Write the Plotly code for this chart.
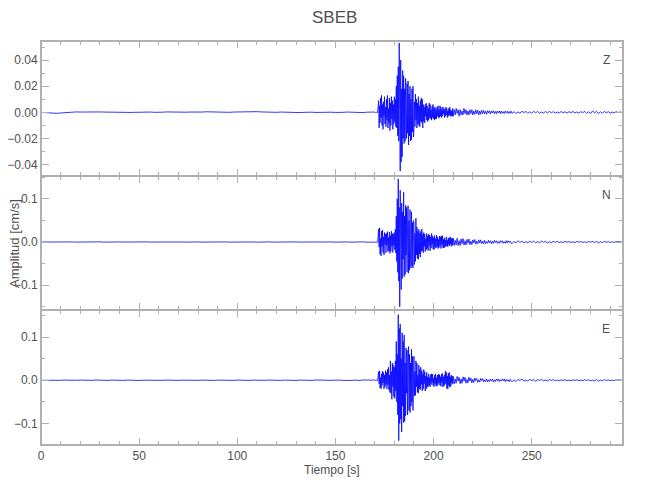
import numpy as np
import plotly.graph_objects as go
from plotly.subplots import make_subplots

# ---------------- data (in 0.001 cm/s) ----------------
station = "SBEB"
components = ["Z", "N", "E"]

# sampling of the segments: (start time [s], step [s])
seg_pre = (0.0, 2.0)      # 0 .. 168 s
seg_onset = (170.0, 0.5)  # 170 .. 171.5 s
seg_main = (172.0, 0.25)  # 172 .. 209.75 s
seg_late = (210.0, 0.5)   # 210 .. 239.5 s
seg_coda = (240.0, 1.0)   # 240 .. 297 s

z_pre = [0.0,-0.3,-0.7,-0.9,-0.8,-0.5,-0.2,0.1,0.2,0.3,
         0.2,0.3,0.4,0.3,0.2,0.3,0.2,0.1,0.2,0.0,
         -0.2,-0.3,-0.2,-0.1,0.0,0.1,0.3,0.4,0.2,0.0,
         -0.1,0.1,0.3,0.2,0.0,-0.2,-0.1,0.1,0.2,0.1,
         0.0,0.2,0.4,0.3,0.1,-0.1,-0.3,-0.2,0.0,0.2,
         0.3,0.2,0.0,0.1,0.3,0.5,0.3,0.1,-0.1,-0.2,
         0.0,0.2,0.1,-0.1,-0.3,-0.4,-0.2,0.0,0.2,0.1,
         -0.1,0.0,0.2,0.3,0.1,-0.1,-0.2,0.0,0.2,0.1,
         -0.1,-0.3,-0.2,0.1,0.3]
z_onset = [0.2,-0.3,0.1,-0.2]
z_main = [9,-12,5,-8,11,-4,13,-10, 6,-13,8,-3,12,-9,4,-11,
          10,-6,13,-12,3,-8,11,-14, 7,-10,12,-5,9,-13,6,-9,
          12,-7,10,-11,
          20,-12,28,-18, 35,-22,53,-30, -45,40,-38,18, -34,32,-20,28,
          -24,18,-22,26,-12,-20,22,-16, 24,-25,14,-18,20,-22,10,-21, 18,-15,20,-19,
          -13,8,-11,14,-6,10,-12,7, -9,12,-10,5,-11,9,-7,11, -8,10,-12,6,
          -7,4,-8,6,-3,7,-6,5, -7,3,-6,7,-4,6,-5,2, -6,5,-4,6,-5,3,-6,4,
          -5,2,-5,4,-3,5,-4,2, -4,5,-3,4,
          -4,2,-3,4,-1,3,-4,2, -3,4,-2,3,-4,1,-3,3, -2,4,-3,2,-3,1,-3,3]
z_late = [-3,2,-2,3,-1,2,-3,2,-2,1,
          -2,3,-1,2,-2,1,-2,2,-1,2,
          -2,1,-1.5,2,-1,1.5,-2,1,-1.5,1.5,
          -1,1.5,-1.2,0.8,-1.5,1.2,-0.6,1.2,-1.2,1,
          -0.5,1.2,-1,0.6,-1.1,1,-0.6,1,-0.9,1,
          -0.8,0.5,-1,0.9,-0.4,0.8,-0.9,0.6,-0.7,0.9]
z_coda = [-0.8,0.5,-0.9,0.3,-0.6,0.8,-0.2,0.7,-0.8,0.4,
          -0.6,0.7,-0.3,0.6,-0.7,0.2,-0.5,0.6,-0.4,0.7,
          -0.3,0.5,-0.6,0.2,-0.5,0.6,-0.3,0.4,-0.6,0.5,
          -0.2,0.6,-0.5,0.3,-0.6,0.5,-0.2,0.7,-0.8,0.4,
          -0.9,1.1,-0.5,0.8,-0.9,0.4,-0.8,0.7,-0.3,0.5,
          -0.6,0.2,-0.4,0.5,-0.2,0.3,-0.2,0.0]

n_pre = [0.0,0.2,-0.1,0.3,-0.2,0.1,0.3,-0.1,0.2,-0.2,
         0.1,0.3,-0.2,0.2,-0.1,0.4,-0.3,0.2,0.0,-0.2,
         0.3,-0.1,0.2,-0.3,0.1,0.2,-0.2,0.3,-0.1,0.1,
         -0.2,0.3,-0.1,0.2,-0.3,0.2,0.1,-0.2,0.3,-0.1,
         0.2,-0.2,0.1,0.3,-0.3,0.2,-0.1,0.2,-0.2,0.1,
         0.3,-0.2,0.2,-0.1,0.1,-0.3,0.2,-0.1,0.3,-0.2,
         0.1,0.2,-0.2,0.1,-0.1,0.3,-0.2,0.2,-0.3,0.1,
         0.2,-0.1,0.3,-0.2,0.2,-0.3,0.4,-0.3,0.2,-0.4,
         0.3,-0.2,0.4,-0.3,0.2]
n_onset = [0.5,-0.5,0.3,-0.4]
n_main = [30,-12,33,-28,8,-32,25,-10, 28,-24,12,-30,22,-6,18,-25,
          20,-8,24,-22,10,-20,23,-26, 15,-22,25,-10,20,-24,18,-8,
          22,-18,30,-25,
          60,-45,100,-70, 146,-90,80,-150, 120,-60,-110,90, -85,70,-40,115,
          -80,60,-75,85, -30,80,-70,40, 84,-72,50,-65, 75,-40,-60,70, -55,45,-60,50,
          45,-52,20,-45, 55,-30,35,-38, 25,-40,30,-28, 20,-35,25,-22, 30,-20,18,-25,
          22,-10,18,-22,8,-18,20,-15, 14,-20,18,-8,16,-20,12,-14, 20,-6,14,-16,10,-18,15,-12,
          8,-14,16,-10,12,-15,6,-13, 14,-9,12,-15,
          14,-5,15,-13,6,-14,10,-12, 5,-10,12,-9,4,-11,9,-6, 10,-9,12,-5,8,-10,9,-7]
n_late = [9,-8,4,-7,9,-8,3,-8,7,-4,
          8,-7,3,-7,6,-3,7,-6,2,-6,
          5,-2,6,-5,2,-4,5,-2,5,-4,
          2,-4,4,-4,1,-3,4,-2,3,-4,
          2,-3,4,-1,3,-3,1,-3,3,-1,
          3,-3,1,-3,3,-2,3,-1,2,-3]
n_coda = [-3,1,-2,3,-1,2,-2,1,-2,2,
          -1,2,-2,1,-1.5,2,-0.5,1.5,-2,0.5,
          -1.5,1.5,-0.5,1.5,-1.5,0.5,-1,1.5,-0.5,1,
          -1,0.4,-1,1.2,-0.4,1,-1,0.4,-1.2,1,
          -0.4,1.2,-1,1.5,-2,0.6,-1.5,1.5,-0.5,1,
          -1,0.4,-0.8,0.6,-0.3,0.5,-0.3,0]

e_pre = [0.0,-0.3,0.2,-0.4,0.3,-0.2,0.4,-0.3,0.2,-0.1,
         0.3,-0.4,0.2,-0.2,0.5,-0.3,0.1,-0.4,0.3,-0.2,
         0.2,-0.3,0.4,-0.2,0.3,-0.5,0.2,-0.1,0.4,-0.3,
         0.2,-0.2,0.3,-0.4,0.5,-0.3,0.2,-0.2,0.3,-0.1,
         -0.2,0.4,-0.3,0.2,-0.4,0.3,-0.2,0.1,0.3,-0.3,
         0.4,-0.2,0.2,-0.3,0.3,-0.4,0.2,-0.2,0.4,-0.3,
         0.2,-0.3,0.3,-0.2,0.4,-0.4,0.3,-0.2,0.2,-0.3,
         0.5,-0.4,0.3,-0.3,0.4,-0.5,0.4,-0.3,0.5,-0.4,
         0.3,-0.5,0.6,-0.4,0.3]
e_onset = [0.5,-0.6,0.4,-0.5]
e_main = [20,-8,22,-18,6,-20,15,-12, 21,-6,18,-20,12,-15,22,-10,
          18,-20,25,-10,30,-22,12,-28, 45,-30,20,-44,40,-15,35,-38,
          30,-42,45,-25,
          90,-50,60,-80, 152,-140,120,-100, 130,-90,50,-120, 110,-60,90,-98,
          105,-95,40,-82, 75,-30,70,-80, 35,78,-70,60, -75,40,-60,72, -50,55,-70,45,
          56,-36,20,-35, 45,-15,40,-28, 12,-30,35,-20, 25,-22,30,-10, 22,-25,15,-20,
          25,-8,20,-25,10,-20,18,-16, 8,-15,15,-12,6,-15,13,-10, 15,-5,14,-12,4,-15,12,-8,
          15,-13,6,-14,12,-10,14,-6, 13,-12,8,-14,
          14,-6,16,-15,8,-14,12,-10, 21,-8,18,-19,10,-20,16,-12, 18,-16,8,-14,12,-6,10,-9]
e_late = [9,-8,3,-7,9,-2,7,-8,3,-7,
          8,-2,7,-7,2,-6,7,-2,5,-6,
          2,-5,5,-1,4,-5,1,-4,4,-1,
          4,-4,1,-3,3,-4,1,-3,3,-1,
          3,-4,1,-3,3,-1,3,-3,1,-2,
          3,-1,3,-3,2,-2,1,-3,2,-2]
e_coda = [-3,1,-3,2,-0.5,3,-2,0.5,-2,2,
          -0.5,1.5,-2,1.5,-0.5,2,-1.5,0.5,-1.5,1.5,
          -0.4,1.5,-1.2,0.4,-1.2,1,-0.4,1.2,-1,0.4,
          -1,1,-0.4,1,-1,0.4,-1,1.2,-0.4,1,
          -1.2,0.5,-1.5,2,-2.5,0.6,-1.5,1.5,-0.4,1,
          -1,0.4,-0.8,0.6,-0.3,0.5,-0.3,0]

y_ranges = {"Z": [-0.0485, 0.0546], "N": [-0.158, 0.1535], "E": [-0.150, 0.162]}
y_dticks = {"Z": (0.02, 0.01, ".2f"), "N": (0.1, 0.05, ".1f"), "E": (0.1, 0.05, ".1f")}
x_range = [0, 296.5]
x_ticks = [0, 50, 100, 150, 200, 250]

series = {"Z": (z_pre, z_onset, z_main, z_late, z_coda),
          "N": (n_pre, n_onset, n_main, n_late, n_coda),
          "E": (e_pre, e_onset, e_main, e_late, e_coda)}
segments = (seg_pre, seg_onset, seg_main, seg_late, seg_coda)


def build(parts):
    ts, vs = [], []
    for (start, step), vals in zip(segments, parts):
        ts.append(start + step * np.arange(len(vals)))
        vs.append(np.asarray(vals, dtype=float))
    return np.concatenate(ts), np.concatenate(vs) * 0.001


# ---------------- figure ----------------
FONT = "Liberation Sans, Arial, sans-serif"
FRAME = "#b0b0b0"
TXT = "#505050"

fig = make_subplots(rows=3, cols=1, shared_xaxes=True, vertical_spacing=0)

for i, comp in enumerate(components, start=1):
    t, v = build(series[comp])
    fig.add_trace(go.Scatter(x=t, y=v, mode="lines",
                             line=dict(color="#0000ff", width=0.8),
                             showlegend=False, hoverinfo="skip"), row=i, col=1)
    major, minor, fmt = y_dticks[comp]
    fig.update_yaxes(range=y_ranges[comp], dtick=major, tick0=0, tickformat=fmt,
                     ticks="inside", ticklen=8, tickwidth=1, tickcolor=FRAME,
                     minor=dict(dtick=minor, tick0=0, ticks="inside", ticklen=4,
                                tickwidth=1, tickcolor=FRAME),
                     showline=True, linecolor=FRAME, linewidth=1, mirror="ticks",
                     showgrid=False, zeroline=False, automargin=False,
                     tickfont=dict(family=FONT, size=12, color=TXT),
                     row=i, col=1)
    fig.update_xaxes(range=x_range, tickvals=x_ticks,
                     ticks="inside", ticklen=7, tickwidth=1, tickcolor=FRAME,
                     minor=dict(dtick=10, tick0=0, ticks="inside", ticklen=4,
                                tickwidth=1, tickcolor=FRAME),
                     showline=True, linecolor=FRAME, linewidth=1, mirror="ticks",
                     showgrid=False, zeroline=False, automargin=False,
                     tickfont=dict(family=FONT, size=12, color=TXT),
                     row=i, col=1)
    yref = "y" if i == 1 else f"y{i}"
    xref = "x" if i == 1 else f"x{i}"
    fig.add_annotation(text=comp, xref=f"{xref} domain", yref=f"{yref} domain",
                       x=0.971, y=0.86, showarrow=False, xanchor="center", yanchor="middle",
                       font=dict(family=FONT, size=12, color=TXT))

# outer frame
fig.add_shape(type="rect", xref="paper", yref="paper", x0=0, x1=1, y0=0, y1=1,
              line=dict(color=FRAME, width=2), layer="above")

fig.add_annotation(text=station, xref="paper", yref="paper", x=0.505, y=1.057,
                   showarrow=False, xanchor="center", yanchor="middle",
                   font=dict(family=FONT, size=17, color=TXT))
fig.add_annotation(text="Tiempo [s]", xref="paper", yref="paper", x=0.5, y=-0.062,
                   showarrow=False, xanchor="center", yanchor="middle",
                   font=dict(family=FONT, size=12, color=TXT))
fig.add_annotation(text="Amplitud [cm/s]", xref="paper", yref="paper", x=-0.0464, y=0.5,
                   showarrow=False, xanchor="center", yanchor="middle", textangle=-90,
                   font=dict(family=FONT, size=13, color=TXT))

fig.update_layout(width=650, height=500, margin=dict(l=41, r=27, t=41, b=55),
                  plot_bgcolor="white", paper_bgcolor="white")

fig.write_html("out.html", config={"displayModeBar": False},
               post_script="document.body.style.margin='0';")
